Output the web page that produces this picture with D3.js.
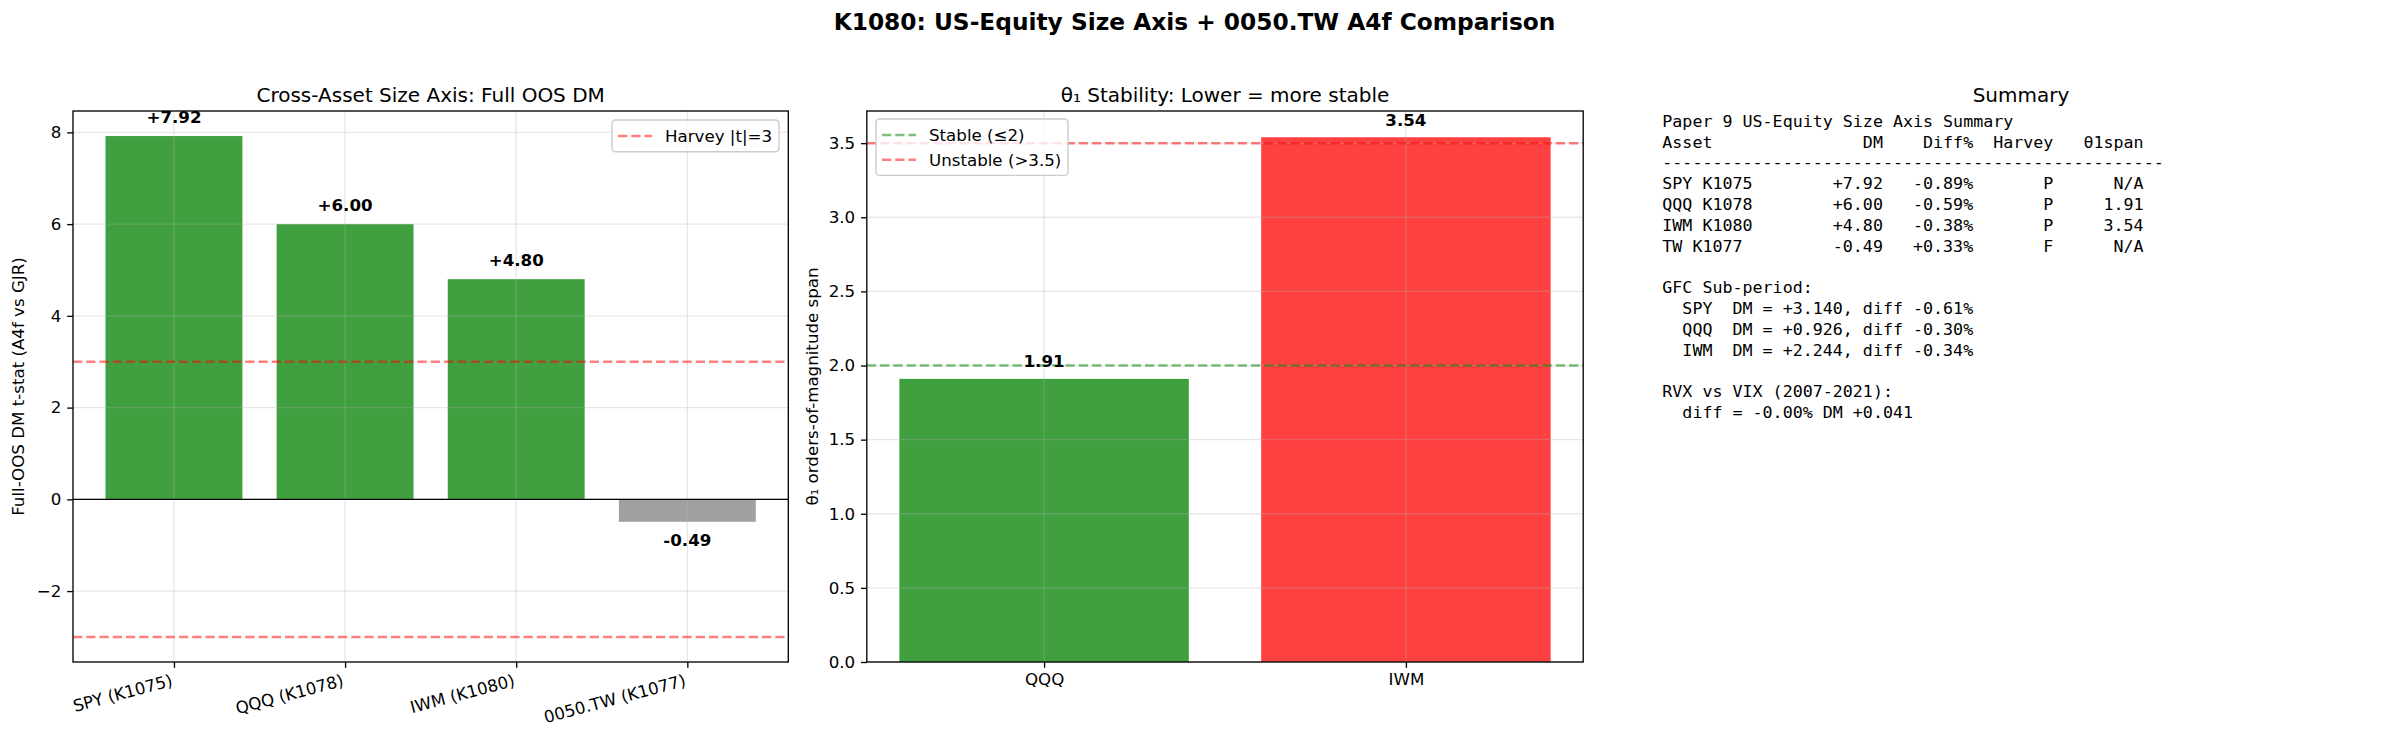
<!DOCTYPE html>
<html>
<head>
	<meta charset="utf-8">
	<title>K1080 Size Axis</title>
	<script src="https://d3js.org/d3.v7.min.js"></script>
	<style>
		body { margin: 0; background: #fff; }
		text { font-family: 'DejaVu Sans', sans-serif; }
	</style>
</head>
<body>
	<div class="chart"></div>

	<script type="text/javascript">

		// panel 1: full OOS DM t-stat
		var assets = ['SPY (K1075)', 'QQQ (K1078)', 'IWM (K1080)', '0050.TW (K1077)']
		var dmStats = [7.92, 6.00, 4.80, -0.49]
		var harveyT = 3
		var dmTicks = [-2, 0, 2, 4, 6, 8]

		// panel 2: theta1 span
		var spanAssets = ['QQQ', 'IWM']
		var spanValues = [1.91, 3.54]
		var stableLevel = 2
		var unstableLevel = 3.5
		var spanTicks = [0, 0.5, 1, 1.5, 2, 2.5, 3, 3.5]

		// panel 3: summary text
		var sumAssets = ['SPY K1075', 'QQQ K1078', 'IWM K1080', 'TW K1077']
		var sumDiff = [-0.89, -0.59, -0.38, 0.33]
		var sumHarvey = ['P', 'P', 'P', 'F']
		var sumSpan = [null, 1.91, 3.54, null]
		var gfcAssets = ['SPY', 'QQQ', 'IWM']
		var gfcDM = [3.140, 0.926, 2.244]
		var gfcDiff = [-0.61, -0.30, -0.34]
		var rvxDiff = -0.001
		var rvxDM = 0.041

		var width = 2389
		var height = 741
		var fs = 16.67
		var axTop = 111, axBottom = 662

		var svg = d3.select('.chart')
			.append('svg')
			.attr('width', width)
			.attr('height', height)
			.style('background-color', '#fff')

		var sign = (v, n) => (v >= 0 ? '+' : '') + v.toFixed(n)
		var minus = (d) => String(d).replace('-', '\u2212')

		svg.append('text')
			.attr('x', 1194.5).attr('y', 29.5)
			.attr('text-anchor', 'middle')
			.style('font-size', '23.3px')
			.style('font-weight', 'bold')
			.text('K1080: US-Equity Size Axis + 0050.TW A4f Comparison')

		function dashed(sel, color) {
			return sel.attr('stroke', color)
				.attr('stroke-opacity', 0.5)
				.attr('stroke-width', 2.5)
				.attr('stroke-dasharray', '9.25,4')
		}

		function grid(g, x0, x1, yScale, ticks, xScale, xVals) {
			var gr = g.append('g')
			gr.selectAll('.gy').data(ticks).enter().append('line')
				.attr('x1', x0).attr('x2', x1)
				.attr('y1', d => yScale(d)).attr('y2', d => yScale(d))
			gr.selectAll('.gx').data(xVals).enter().append('line')
				.attr('x1', (d, i) => xScale(i)).attr('x2', (d, i) => xScale(i))
				.attr('y1', axTop).attr('y2', axBottom)
			gr.selectAll('line')
				.attr('stroke', '#b0b0b0').attr('stroke-opacity', 0.3).attr('stroke-width', 1.33)
		}

		function axes(g, x0, x1, yScale, ticks, fmt, xScale, xVals) {
			g.append('g')
				.attr('transform', `translate(${x0},0)`)
				.call(d3.axisLeft(yScale).tickValues(ticks).tickSize(5.8).tickPadding(5.8).tickFormat(fmt))
			var xa = g.append('g')
				.attr('transform', `translate(0,${axBottom})`)
				.call(d3.axisBottom(xScale).tickValues(d3.range(xVals.length)).tickSize(5.8).tickPadding(5.8).tickFormat(i => xVals[i]))
			g.selectAll('.domain').remove()
			g.selectAll('.tick line').attr('stroke', '#000').attr('stroke-width', 1.33)
			g.selectAll('.tick text').style('font-size', fs + 'px').style('font-family', 'DejaVu Sans').attr('fill', '#000')
			g.append('rect')
				.attr('x', x0).attr('y', axTop)
				.attr('width', x1 - x0).attr('height', axBottom - axTop)
				.attr('fill', 'none').attr('stroke', '#000').attr('stroke-width', 1.33)
			return xa
		}

		function legend(g, x, y, w, items) {
			var h = 7 + items.length * 24.7
			g.append('rect')
				.attr('x', x).attr('y', y).attr('width', w).attr('height', h)
				.attr('rx', 3.5)
				.attr('fill', '#fff').attr('fill-opacity', 0.8)
				.attr('stroke', '#cccccc').attr('stroke-width', 1.4)
			items.forEach(function(it, i) {
				var cy = y + 16 + i * 24.7
				dashed(g.append('line'), it.color)
					.attr('x1', x + 6).attr('x2', x + 40).attr('y1', cy).attr('y2', cy)
				g.append('text')
					.attr('x', x + 53).attr('y', cy + 6)
					.style('font-size', fs + 'px')
					.text(it.label)
			})
		}

		// ---------- panel 1 ----------
		var p1 = svg.append('g')
		var L1 = 73, R1 = 788.3
		var x1 = d3.scaleLinear().domain([-0.59, 3.59]).range([L1, R1])
		var y1 = d3.scaleLinear().domain([-3.546, 8.466]).range([axBottom, axTop])

		p1.selectAll('.bar').data(dmStats).enter().append('rect')
			.attr('x', (d, i) => x1(i - 0.4))
			.attr('width', x1(0.4) - x1(-0.4))
			.attr('y', d => y1(Math.max(d, 0)))
			.attr('height', d => Math.abs(y1(d) - y1(0)))
			.attr('fill', d => d > 0 ? 'green' : 'gray')
			.attr('fill-opacity', 0.75)

		grid(p1, L1, R1, y1, dmTicks, x1, assets)

		p1.append('line')
			.attr('x1', L1).attr('x2', R1).attr('y1', y1(0)).attr('y2', y1(0))
			.attr('stroke', '#000').attr('stroke-width', 1.33)
		;[harveyT, -harveyT].forEach(function(t) {
			dashed(p1.append('line'), 'red')
				.attr('x1', L1).attr('x2', R1).attr('y1', y1(t)).attr('y2', y1(t))
		})

		p1.selectAll('.lab').data(dmStats).enter().append('text')
			.attr('x', (d, i) => x1(i))
			.attr('y', d => d >= 0 ? y1(d) - 13.5 : y1(d) + 24)
			.attr('text-anchor', 'middle')
			.style('font-size', fs + 'px').style('font-weight', 'bold')
			.text(d => sign(d, 2))

		var xa1 = axes(p1, L1, R1, y1, dmTicks, minus, x1, assets)
		xa1.selectAll('.tick text')
			.attr('y', 0).attr('dy', 0)
			.attr('text-anchor', 'end')
			.attr('transform', 'translate(-1,23.5) rotate(-15)')

		p1.append('text')
			.attr('x', (L1 + R1) / 2).attr('y', 101.5)
			.attr('text-anchor', 'middle')
			.style('font-size', '20px')
			.text('Cross-Asset Size Axis: Full OOS DM')

		p1.append('text')
			.attr('transform', `translate(24,${(axTop + axBottom) / 2}) rotate(-90)`)
			.attr('text-anchor', 'middle')
			.style('font-size', fs + 'px')
			.text('Full-OOS DM t-stat (A4f vs GJR)')

		legend(p1, 612, 120, 167, [{ color: 'red', label: 'Harvey |t|=3' }])

		// ---------- panel 2 ----------
		var p2 = svg.append('g')
		var L2 = 866.8, R2 = 1583.2
		var x2 = d3.scaleLinear().domain([-0.49, 1.49]).range([L2, R2])
		var y2 = d3.scaleLinear().domain([0, 3.717]).range([axBottom, axTop])

		p2.selectAll('.bar').data(spanValues).enter().append('rect')
			.attr('x', (d, i) => x2(i - 0.4))
			.attr('width', x2(0.4) - x2(-0.4))
			.attr('y', d => y2(d))
			.attr('height', d => y2(0) - y2(d))
			.attr('fill', d => d <= stableLevel ? 'green' : 'red')
			.attr('fill-opacity', 0.75)

		grid(p2, L2, R2, y2, spanTicks, x2, spanAssets)

		dashed(p2.append('line'), 'green')
			.attr('x1', L2).attr('x2', R2).attr('y1', y2(stableLevel)).attr('y2', y2(stableLevel))
		dashed(p2.append('line'), 'red')
			.attr('x1', L2).attr('x2', R2).attr('y1', y2(unstableLevel)).attr('y2', y2(unstableLevel))

		p2.selectAll('.lab').data(spanValues).enter().append('text')
			.attr('x', (d, i) => x2(i))
			.attr('y', d => y2(d) - 11.5)
			.attr('text-anchor', 'middle')
			.style('font-size', fs + 'px').style('font-weight', 'bold')
			.text(d => d.toFixed(2))

		axes(p2, L2, R2, y2, spanTicks, d => d.toFixed(1), x2, spanAssets)

		p2.append('text')
			.attr('x', (L2 + R2) / 2).attr('y', 101.5)
			.attr('text-anchor', 'middle')
			.style('font-size', '20px')
			.text('\u03b8\u2081 Stability: Lower = more stable')

		p2.append('text')
			.attr('transform', `translate(818,${(axTop + axBottom) / 2}) rotate(-90)`)
			.attr('text-anchor', 'middle')
			.style('font-size', fs + 'px')
			.text('\u03b8\u2081 orders-of-magnitude span')

		legend(p2, 876, 119, 192, [
			{ color: 'green', label: 'Stable (\u22642)' },
			{ color: 'red', label: 'Unstable (>3.5)' }
		])

		// ---------- panel 3 ----------
		var p3 = svg.append('g')
		p3.append('text')
			.attr('x', 2021).attr('y', 101.5)
			.attr('text-anchor', 'middle')
			.style('font-size', '20px')
			.text('Summary')

		var lines = ['Paper 9 US-Equity Size Axis Summary',
			'Asset'.padEnd(14) + 'DM'.padStart(8) + 'Diff%'.padStart(9) + 'Harvey'.padStart(8) + '\u03b81span'.padStart(9),
			'-'.repeat(50)]
		sumAssets.forEach(function(a, i) {
			lines.push(a.padEnd(14) + sign(dmStats[i], 2).padStart(8) + (sign(sumDiff[i], 2) + '%').padStart(9)
				+ sumHarvey[i].padStart(8) + (sumSpan[i] == null ? 'N/A' : sumSpan[i].toFixed(2)).padStart(9))
		})
		lines.push('', 'GFC Sub-period:')
		gfcAssets.forEach(function(a, i) {
			lines.push('  ' + a.padEnd(5) + 'DM = ' + sign(gfcDM[i], 3) + ', diff ' + sign(gfcDiff[i], 2) + '%')
		})
		lines.push('', 'RVX vs VIX (2007-2021):', '  diff = ' + rvxDiff.toFixed(2) + '% DM ' + sign(rvxDM, 3))

		p3.selectAll('.ln').data(lines).enter().append('text')
			.attr('x', 1662.3)
			.attr('y', (d, i) => 126.7 + i * 20.8)
			.attr('xml:space', 'preserve')
			.style('white-space', 'pre')
			.style('font-family', "'DejaVu Sans Mono', monospace")
			.style('font-size', fs + 'px')
			.text(d => d)

	</script>
</body>
</html>
